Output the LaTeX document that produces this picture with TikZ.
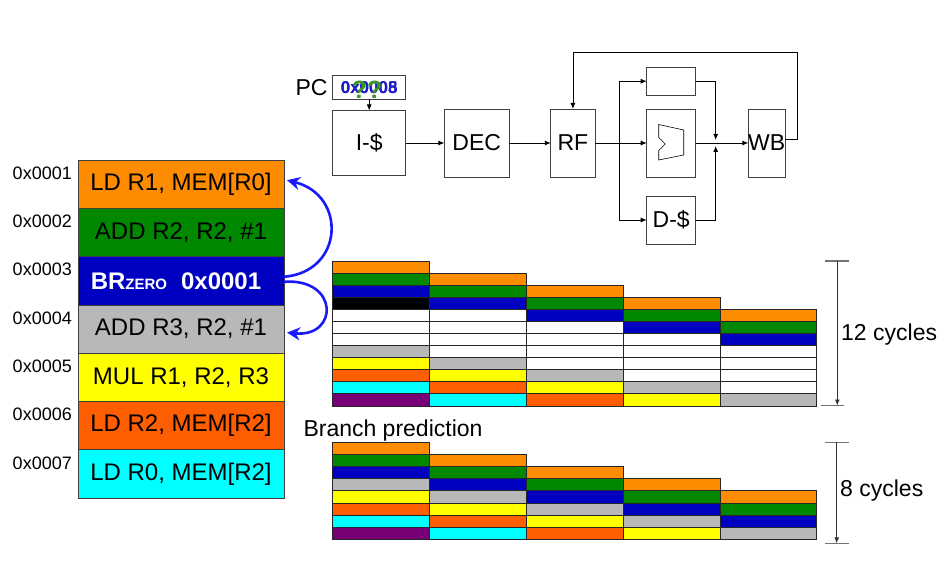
\documentclass[tikz,border=0pt]{standalone}
\usepackage{fontspec}
\setmainfont{Liberation Sans}
\usepackage{tikz}
\usetikzlibrary{arrows.meta,positioning,calc}

\definecolor{po}{RGB}{255,140,0}
\definecolor{pg}{RGB}{0,136,0}
\definecolor{pb}{RGB}{0,0,192}
\definecolor{pgr}{RGB}{184,184,184}
\definecolor{py}{RGB}{255,255,0}
\definecolor{pr}{RGB}{255,94,0}
\definecolor{pc}{RGB}{0,255,255}
\definecolor{pp}{RGB}{119,0,119}
\definecolor{arcblue}{RGB}{25,25,250}
\definecolor{pcblue}{RGB}{30,30,200}
\definecolor{qgreen}{RGB}{60,150,40}

\begin{document}
\begin{tikzpicture}[x=1pt,y=-1pt,>={Latex[length=6pt,width=5pt]},
   blk/.style={draw=black!75,line width=0.8pt,inner sep=0pt,outer sep=0pt,font=\fontsize{23}{27}\selectfont},
   instr/.style={draw=black!75,line width=0.8pt,minimum width=206pt,minimum height=48.3pt,
     inner sep=0pt,outer sep=0pt,font=\fontsize{24}{28}\selectfont},
   addr/.style={anchor=east,inner sep=0pt,font=\fontsize{18}{21}\selectfont},
   lbl/.style={inner sep=0pt,font=\fontsize{23}{27}\selectfont},
   pcval/.style={inner sep=0pt,text=pcblue,font=\bfseries\fontsize{17}{20}\selectfont},
   cell/.style={draw=black!85,line width=0.8pt},
   tick/.style={draw=black!55,line width=1.2pt},
   barrow/.style={draw=arcblue,line width=2.6pt,-{Stealth[length=13pt,width=13pt]}}]
  \useasboundingbox (0,0) rectangle (943,564);

  % program in memory
  \node[instr,fill=po] (i1) at (181,184.2) {LD R1, MEM[R0]};
  \node[instr,fill=pg,below=0pt of i1] (i2) {ADD R2, R2, \#1};
  \node[instr,fill=pb,text=white,below=0pt of i2] (i3) {\bfseries BR{\fontsize{15}{17}\selectfont ZERO}\hspace{14pt}0x0001\hspace*{10pt}};
  \node[instr,fill=pgr,below=0pt of i3] (i4) {ADD R3, R2, \#1};
  \node[instr,fill=py,below=0pt of i4] (i5) {MUL R1, R2, R3};
  \node[instr,fill=pr,below=0pt of i5] (i6) {LD R2, MEM[R2]};
  \node[instr,fill=pc,below=0pt of i6] (i7) {LD R0, MEM[R2]};
  \foreach \n in {1,...,7}
    \node[addr] (a\n) at ([xshift=-6pt,yshift=-13pt]i\n.north west) {0x000\n};
  \draw[barrow] ([yshift=4pt]i3.east) .. controls +(60,-5) and +(60,15) .. ([xshift=3pt,yshift=4pt]i1.east);
  \draw[barrow] ([yshift=-1pt]i3.east) .. controls +(55,-4) and +(52,5) .. ([xshift=3pt,yshift=-3.5pt]i4.east);

  % datapath
  \node[blk,minimum width=73pt,minimum height=24pt] (pc) at (369.2,87.3) {};
  \node[pcval] (pcv5) at (pc) {0x0005};
  \node[pcval] (pcv8) at (pc) {0x0008};
  \node[inner sep=0pt,text=qgreen,font=\bfseries\fontsize{25}{28}\selectfont] (pcq) at ([xshift=-2pt,yshift=-2pt]pc.center) {??};
  \node[lbl,anchor=east] (pclbl) at ([xshift=-5pt]pc.west) {PC};
  \node[blk,minimum width=73pt,minimum height=65pt] (icache) at (369.2,143) {I-\$};
  \node[blk,minimum width=64.7pt,minimum height=68pt] (dec) at (476.7,143) {DEC};
  \node[blk,minimum width=44.3pt,minimum height=68pt] (rf) at (572.9,143) {RF};
  \node[blk,minimum width=49pt,minimum height=27.7pt] (ex) at (671.2,81.2) {};
  \node[blk,minimum width=49pt,minimum height=68pt] (alu) at (671.2,143) {};
  \node[blk,minimum width=49pt,minimum height=48pt] (dcache) at (671.2,220) {D-\$};
  \node[blk,minimum width=36.7pt,minimum height=68pt] (wb) at (766.7,143) {\makebox[0pt]{WB}};
  \draw[line width=0.6pt] (alu.center) ++(-12.5,-18.5) -- ++(25,5.5) -- ++(0,25) -- ++(-25,5)
     -- ++(0,-9.5) -- ++(6.5,-6.5) -- ++(-6.5,-6.5) -- cycle;
  \coordinate (fork) at (619,143);
  \coordinate (join) at (715.7,143);
  \coordinate (fb) at (797,52);
  \begin{scope}[line width=0.8pt]
    \draw[->] (pc) -- (icache);
    \draw[->] (icache) -- (dec);
    \draw[->] (dec) -- (rf);
    \draw[->] (rf) -- (alu);
    \draw[->] (fork) |- (ex);
    \draw[->] (fork) |- (dcache);
    \draw[->] (ex) -| ([yshift=3pt]join);
    \draw[->] (dcache) -| ([yshift=-3pt]join);
    \draw[->] (alu) -- (wb);
    \draw[->] ([yshift=4pt]wb.east) -| (fb) -| (rf.north);
  \end{scope}

  % timing without prediction
  \foreach \c in {0,...,4} {
    \ifnum\c=0 \colorlet{hole}{black}\else\colorlet{hole}{white}\fi
    \foreach \f [count=\r from 0] in {po,pg,pb,hole,white,white,white,pgr,py,pr,pc,pp} {
      \pgfmathtruncatemacro\row{\r+\c}
      \ifnum\row<12
        \draw[cell,fill=\f] ({332.7+96.8*\c},{261+12.08*\row}) rectangle ++(96.8,12.08);
      \fi
    }
  }
  \coordinate (t12) at (837.3,261);
  \coordinate (b12) at (837.3,405.5);
  \draw[tick] ([xshift=-12pt]t12) -- ([xshift=12pt]t12);
  \draw[tick] ([xshift=-16.5pt]b12) -- ([xshift=7pt]b12);
  \draw[->,line width=0.9pt,black!80] (t12) -- (b12);
  \node[lbl,anchor=west] (n12) at (841,334.3) {12 cycles};

  % timing with prediction
  \node[lbl,anchor=base west] (bp) at (303.3,436.7) {Branch prediction};
  \foreach \c in {0,...,4} {
    \foreach \f [count=\r from 0] in {po,pg,pb,pgr,py,pr,pc,pp} {
      \pgfmathtruncatemacro\row{\r+\c}
      \ifnum\row<8
        \draw[cell,fill=\f] ({332.7+96.8*\c},{442.3+12.12*\row}) rectangle ++(96.8,12.12);
      \fi
    }
  }
  \coordinate (t8) at (836.7,442.3);
  \coordinate (b8) at (836.7,543.3);
  \draw[tick] ([xshift=-11.7pt]t8) -- ([xshift=12.3pt]t8);
  \draw[tick] ([xshift=-11.7pt]b8) -- ([xshift=12.3pt]b8);
  \draw[->,line width=0.9pt,black!80] (t8) -- (b8);
  \node[lbl,anchor=west] (n8) at (840,491) {8 cycles};
\end{tikzpicture}
\end{document}
